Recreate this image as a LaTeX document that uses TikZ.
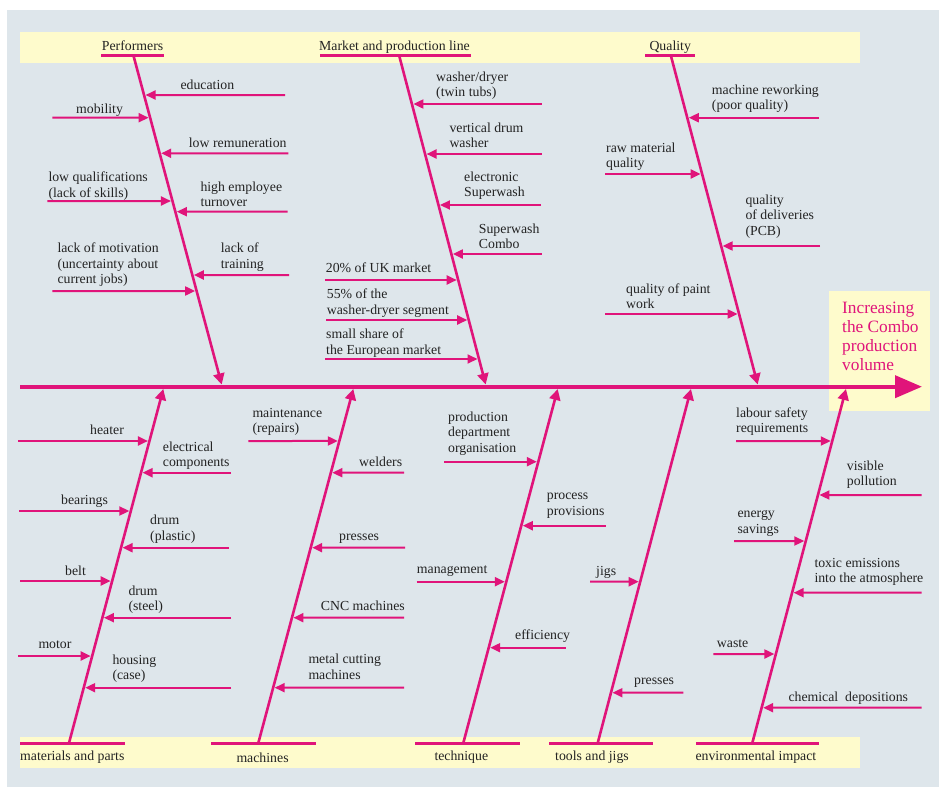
\documentclass[tikz,border=0pt]{standalone}
\usepackage{fontspec}
\setmainfont{Liberation Serif}
\usetikzlibrary{arrows.meta}
\definecolor{pk}{RGB}{224,20,122}
\definecolor{panel}{RGB}{222,230,235}
\definecolor{yel}{RGB}{254,251,204}
\definecolor{txt}{RGB}{35,35,35}
\newcommand\labfont{\fontsize{13.8}{15.5}\selectfont}
\newcommand\goalfont{\fontsize{17.3}{19}\selectfont}
\newcommand\cause[4]{\coordinate (#1) at (#2,#3);
  \draw[sub] (#1) -- (intersection of #4s--#4e and 0,#3--1,#3);}
\begin{document}
\begin{tikzpicture}[x=1pt,y=-1pt,
  lab/.style={font=\labfont, text=txt, align=left, inner sep=0pt, anchor=north west, yshift=9.35pt, execute at begin node=\strut},
  sub/.style={draw=pk, line width=2pt, -{Triangle[length=10pt,width=9pt]}, shorten >=1.5pt},
  bone/.style={draw=pk, line width=2.6pt, -{Triangle[length=11pt,width=11pt]}},
  uline/.style={draw=pk, line width=3pt},
  band/.style={fill=yel, draw=none}]
\useasboundingbox (0,0) rectangle (939,787);
\fill[white] (0,0) rectangle (939,787);
\fill[panel] (7,10) rectangle (939,787);
% bands
\fill[band] (20,32) rectangle (860,63);
\fill[band] (20,737) rectangle (860,768);
\fill[band] (829,291) rectangle (930,411);
\node[font=\goalfont, text=pk, align=left, inner sep=0pt, anchor=north west, yshift=10.5pt, execute at begin node=\strut] (goal) at (842,312) {Increasing\\the Combo\\production\\volume};
% spine
\coordinate (sp1) at (20,386.7);
\coordinate (sp2) at (922,386.7);
\draw[draw=pk, line width=4pt, -{Triangle[length=27pt,width=22pt]}] (sp1) -- (sp2);
% bones
\coordinate (Ps) at (133.3,55); \coordinate (Pe) at (221.7,384.5);
\coordinate (Ks) at (399,55);   \coordinate (Ke) at (485.7,384.5);
\coordinate (Qs) at (670.7,55); \coordinate (Qe) at (757.7,384.5);
\coordinate (Ms) at (69,743);   \coordinate (Me) at (163.3,389);
\coordinate (Ns) at (258.3,743);\coordinate (Ne) at (353.3,389);
\coordinate (Ts) at (463.3,743);\coordinate (Te) at (557.7,389);
\coordinate (Js) at (597.7,743);\coordinate (Je) at (691,389);
\coordinate (Es) at (752.3,743);\coordinate (Ee) at (846,389);
\foreach \b in {P,K,Q,M,N,T,J,E} \draw[bone] (\b s) -- (\b e);
% underlines
\coordinate (uPa) at (101,55); \coordinate (uPb) at (164,55);
\coordinate (uKa) at (320,55); \coordinate (uKb) at (471,55);
\coordinate (uQa) at (645,55); \coordinate (uQb) at (695,55);
\coordinate (uMa) at (20,743); \coordinate (uMb) at (125,743);
\coordinate (uNa) at (211,743); \coordinate (uNb) at (316,743);
\coordinate (uTa) at (415,743); \coordinate (uTb) at (520,743);
\coordinate (uJa) at (549,743); \coordinate (uJb) at (653,743);
\coordinate (uEa) at (696,743); \coordinate (uEb) at (819,743);
\foreach \b in {P,K,Q,M,N,T,J,E} \draw[uline] (u\b a) -- (u\b b);
% category labels
\node[lab] (catP) at (101.7,48.3) {Performers};
\node[lab] (catK) at (319,48.3) {Market and production line};
\node[lab] (catQ) at (649.3,48.3) {Quality};
\node[lab] (catM) at (20,759) {materials and parts};
\node[lab] (catN) at (236.3,760.7) {machines};
\node[lab] (catT) at (434.3,759) {technique};
\node[lab] (catJ) at (555,759) {tools and jigs};
\node[lab] (catE) at (695.3,759) {environmental impact};
% Performers
\cause{pa}{285}{95}{P}       \node[lab] (lpa) at (180.3,88) {education};
\cause{pb}{52.3}{117.7}{P}   \node[lab] (lpb) at (76,112) {mobility};
\cause{pc}{288.3}{153.3}{P}  \node[lab] (lpc) at (188.7,145.7) {low remuneration};
\cause{pd}{47.3}{201}{P}     \node[lab] (lpd) at (48.3,181) {low qualifications\\(lack of skills)};
\cause{pe}{287.7}{211.7}{P}  \node[lab] (lpe) at (200.3,190.7) {high employee\\turnover};
\cause{pf}{52.3}{291}{P}     \node[lab] (lpf) at (57.3,252.3) {lack of motivation\\(uncertainty about\\current jobs)};
\cause{pg}{289}{275}{P}      \node[lab] (lpg) at (220.7,252.3) {lack of\\training};
% Market
\cause{ka}{541.7}{104}{K}    \node[lab] (lka) at (436,81) {washer/dryer\\(twin tubs)};
\cause{kb}{541.7}{154}{K}    \node[lab] (lkb) at (449.3,131.7) {vertical drum\\washer};
\cause{kc}{541}{205}{K}      \node[lab] (lkc) at (464,180.7) {electronic\\Superwash};
\cause{kd}{541.7}{254}{K}    \node[lab] (lkd) at (478.7,232.7) {Superwash\\Combo};
\cause{ke}{325}{280}{K}      \node[lab] (lke) at (325.7,270.7) {20\% of UK market};
\cause{kf}{326}{320}{K}      \node[lab] (lkf) at (326.7,298.3) {55\% of the\\washer-dryer segment};
\cause{kg}{325}{359}{K}      \node[lab] (lkg) at (326,338.3) {small share of\\the European market};
% Quality
\cause{qa}{819}{117.7}{Q}    \node[lab] (lqa) at (711.7,94) {machine reworking\\(poor quality)};
\cause{qb}{605}{174}{Q}      \node[lab] (lqb) at (606,151.7) {raw material\\quality};
\cause{qc}{820}{246}{Q}      \node[lab] (lqc) at (745.3,204) {quality\\of deliveries\\(PCB)};
\cause{qd}{605}{314}{Q}      \node[lab] (lqd) at (626,292.7) {quality of paint\\work};
% Materials
\cause{ma}{18.3}{441}{M}     \node[lab] (lma) at (90,432.7) {heater};
\cause{mb}{231}{472.7}{M}    \node[lab] (lmb) at (162.7,451) {electrical\\components};
\cause{mc}{19}{511}{M}       \node[lab] (lmc) at (61,502.7) {bearings};
\cause{md}{229}{547.7}{M}    \node[lab] (lmd) at (150,524.3) {drum\\(plastic)};
\cause{me}{20}{581}{M}       \node[lab] (lme) at (65,573.3) {belt};
\cause{mf}{231}{617.7}{M}    \node[lab] (lmf) at (128.3,595) {drum\\(steel)};
\cause{mg}{18.3}{656}{M}     \node[lab] (lmg) at (38.3,646.7) {motor};
\cause{mh}{231}{687.7}{M}    \node[lab] (lmh) at (112.3,664) {housing\\(case)};
% Machines
\cause{na}{248.3}{441}{N}    \node[lab] (lna) at (252.3,417.3) {maintenance\\(repairs)};
\cause{nb}{404}{472.7}{N}    \node[lab] (lnb) at (359,464.3) {welders};
\cause{nc}{405}{547.7}{N}    \node[lab] (lnc) at (339,539) {presses};
\cause{nd}{404}{617.7}{N}    \node[lab] (lnd) at (320.7,608.3) {CNC machines};
\cause{ne}{404}{687.7}{N}    \node[lab] (lne) at (308.3,663.3) {metal cutting\\machines};
% Technique
\cause{ta}{444}{461.7}{T}    \node[lab] (lta) at (448,420.7) {production\\department\\organisation};
\cause{tb}{605.7}{525.7}{T}  \node[lab] (ltb) at (546.7,502.3) {process\\provisions};
\cause{tc}{416.7}{581.7}{T}  \node[lab] (ltc) at (416.7,571.7) {management};
\cause{td}{565.7}{647.7}{T}  \node[lab] (ltd) at (515,637.7) {efficiency};
% Tools
\cause{ja}{590}{581.7}{J}    \node[lab] (lja) at (596,573.3) {jigs};
\cause{jb}{683.3}{692.7}{J}  \node[lab] (ljb) at (634,682.7) {presses};
% Environment
\cause{ea}{736}{441}{E}      \node[lab] (lea) at (736,416.7) {labour safety\\requirements};
\cause{eb}{921.7}{495}{E}    \node[lab] (leb) at (846.7,470) {visible\\pollution};
\cause{ec}{734}{541}{E}      \node[lab] (lec) at (737.3,519.7) {energy\\savings};
\cause{ed}{921.7}{592.7}{E}  \node[lab] (led) at (814.3,567.3) {toxic emissions\\into the atmosphere};
\cause{ee}{713.3}{654}{E}    \node[lab] (lee) at (716.7,645.7) {waste};
\cause{ef}{921.7}{707.7}{E}  \node[lab] (lef) at (788.3,699.3) {chemical\ \ depositions};
\end{tikzpicture}
\end{document}
